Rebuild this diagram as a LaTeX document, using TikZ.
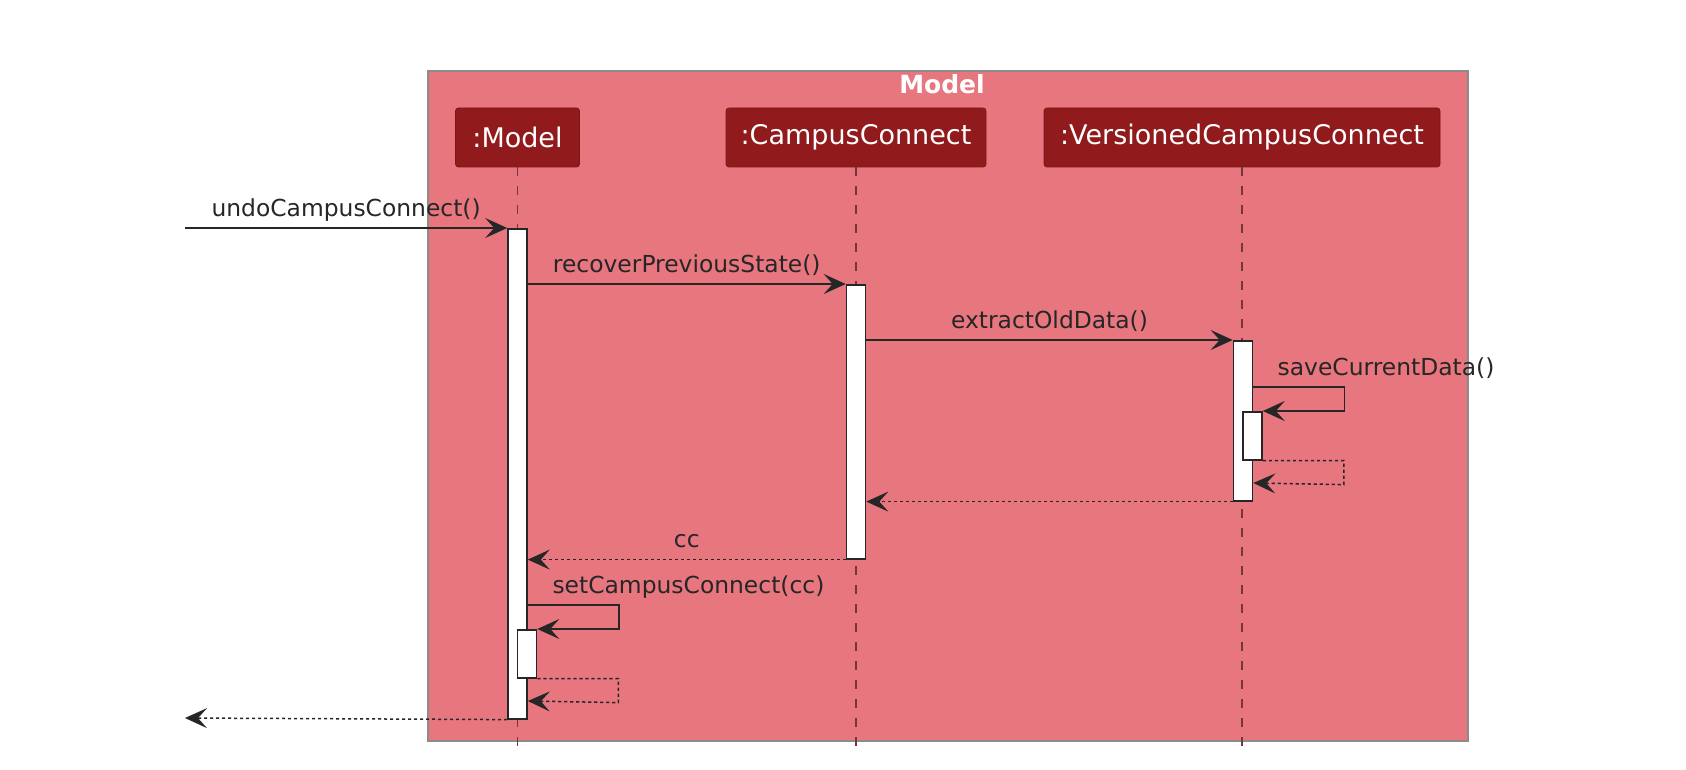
\documentclass[tikz,border=0pt]{standalone}
\usepackage{fontspec}
\setmainfont{DejaVu Sans}
\usetikzlibrary{arrows.meta}
\definecolor{boxred}{HTML}{E8767F}
\definecolor{partred}{HTML}{901A1C}
\definecolor{lifeline}{HTML}{74363C}
\begin{document}
\begin{tikzpicture}[x=0.5pt, y=-0.5pt,
  part/.style={rectangle, rounded corners=1.5pt, draw=partred!85!black, fill=partred, text=white,
    font=\fontsize{13.5}{16}\selectfont, minimum height=29.5pt, inner sep=0pt},
  act/.style={rectangle, draw=black!85, line width=0.8pt, fill=white, minimum width=9.5pt,
    inner sep=0pt, anchor=north},
  life/.style={lifeline, line width=0.6pt, dash pattern=on 4.5pt off 5pt},
  msg/.style={-{Stealth[length=11pt, width=10pt, inset=4.5pt]}, line width=0.75pt, black!85},
  ret/.style={msg, dash pattern=on 1.6pt off 1.4pt},
  lbl/.style={font=\fontsize{11.7}{14}\selectfont, text=black!85, inner sep=0pt,
    text height=8.9pt, text depth=1.5pt}]

\useasboundingbox (0,0) rectangle (1686,770);
\draw[fill=boxred, draw=black!45, line width=0.7pt] (428,71) rectangle (1468,741);
\node[font=\bfseries\fontsize{12.5}{15}\selectfont, text=white] (title) at (942,84) {Model};

\node[part, minimum width=62pt] (m) at (517.5,137.5) {:Model};
\node[part, minimum width=130pt] (cc) at (856,137.5) {:CampusConnect};
\node[part, minimum width=198pt] (vcc) at (1242,137.5) {:VersionedCampusConnect};

% lifelines
\draw[life] (m.south) -- ++(0,586);
\draw[life] (cc.south) -- ++(0,586);
\draw[life] (vcc.south) -- ++(0,586);

% activations
\node[act, minimum height=245pt] (mA) at (517.5,228) {};
\node[act, minimum height=137pt] (ccA) at (856,284) {};
\node[act, minimum height=80pt] (vA) at (1243,340) {};
\node[act, minimum height=24pt] (vB) at (1252.5,411) {};
\node[act, minimum height=24pt] (mB) at (527,629) {};

\coordinate (in) at (185,228);
\coordinate (out) at (185,718);

\draw[msg] (in) -- (mA.north west) node[lbl, midway, above=4pt] (l1) {undoCampusConnect()};
\draw[msg] (mA.east |- ccA.north) -- (ccA.north west) node[lbl, midway, above=4pt] (l2) {recoverPreviousState()};
\draw[msg] (ccA.east |- vA.north) -- (vA.north west) node[lbl, midway, above=4pt] (l3) {extractOldData()};

\draw[msg] (vA.east |- 0,387) node[lbl, anchor=south west, xshift=11.8pt, yshift=4pt] (l4) {saveCurrentData()}
  -- ++(91,0) |- (vB.north east);
\draw[ret] (vB.south east) -- ++(81,0) -- ++(0,24) -- (vA.east |- 0,483);
\draw[ret] (vA.south west) -- (ccA.east |- vA.south);
\draw[ret] (ccA.south west) -- (mA.east |- ccA.south) node[lbl, midway, above=4pt] (l5) {cc};

\draw[msg] (mA.east |- 0,605) node[lbl, anchor=south west, xshift=12pt, yshift=4pt] (l6) {setCampusConnect(cc)}
  -- ++(91,0) |- (mB.north east);
\draw[ret] (mB.south east) -- ++(81,0) -- ++(0,24) -- (mA.east |- 0,701);
\draw[ret] (mA.south west) -- (out);

\end{tikzpicture}
\end{document}
